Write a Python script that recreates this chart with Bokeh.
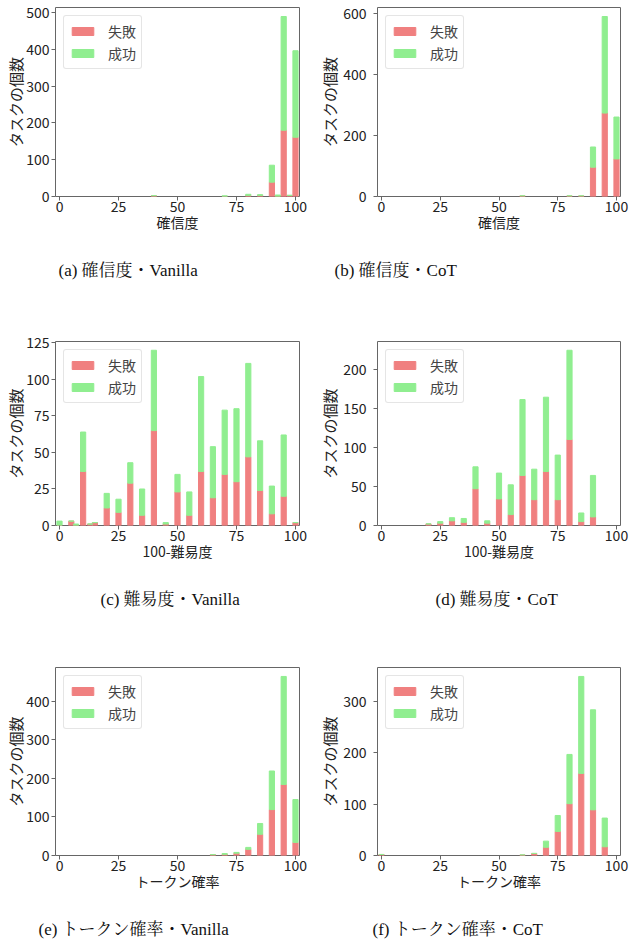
import numpy as np
from bokeh.plotting import figure
from bokeh.layouts import column, row
from bokeh.models import FixedTicker, Range1d, Title
from bokeh.embed import file_html
from bokeh.resources import INLINE

RED = "#F08080"
GREEN = "#90EE90"
SANS = "Noto Sans CJK JP"
SERIF = "'Liberation Serif', 'Noto Serif CJK JP', 'Noto Sans CJK JP', serif"

x_ticks = [0, 25, 50, 75, 100]
legend_labels = ["失敗", "成功"]
y_label = "タスクの個数"

# (a) 確信度・Vanilla
a_x = [40, 70, 80, 85, 90, 92.5, 95, 97.5, 100]
a_fail = [2, 0, 3, 3, 39, 0, 180, 3, 161]
a_succ = [0, 2, 3, 2, 46, 4, 309, 0, 235]
a_yticks = [0, 100, 200, 300, 400, 500]

# (b) 確信度・CoT
b_x = [60, 80, 85, 90, 95, 100]
b_fail = [2, 2, 2, 96, 273, 123]
b_succ = [0, 0, 0, 66, 316, 137]
b_yticks = [0, 200, 400, 600]

# (c) 難易度・Vanilla
c_x = [0, 5, 7, 10, 13, 15, 20, 25, 30, 35, 40, 45, 50, 55, 60, 65, 70, 75, 80, 85, 90, 95, 100]
c_fail = [0, 3, 0, 37, 1, 2, 12, 9, 29, 7, 65, 1, 23, 7, 37, 19, 35, 30, 47, 24, 8, 20, 2]
c_succ = [3, 0, 1, 27, 0, 0, 10, 9, 14, 18, 55, 1, 12, 16, 65, 35, 44, 50, 64, 34, 19, 42, 0]
c_yticks = [0, 25, 50, 75, 100, 125]

# (d) 難易度・CoT
d_x = [20, 25, 30, 35, 40, 45, 50, 55, 60, 65, 70, 75, 80, 85, 90]
d_fail = [2, 3, 6, 4, 47, 3, 34, 14, 64, 33, 69, 33, 110, 5, 11]
d_succ = [0, 2, 4, 5, 28, 3, 33, 38, 97, 39, 95, 57, 114, 11, 53]
d_yticks = [0, 50, 100, 150, 200]

# (e) トークン確率・Vanilla
e_x = [65, 70, 75, 80, 85, 90, 95, 100]
e_fail = [2, 3, 6, 16, 55, 119, 184, 34]
e_succ = [0, 2, 2, 5, 28, 100, 280, 111]
e_yticks = [0, 100, 200, 300, 400]

# (f) トークン確率・CoT
f_x = [0, 60, 65, 70, 75, 80, 85, 90, 95]
f_fail = [2, 1, 4, 16, 47, 101, 160, 89, 17]
f_succ = [0, 0, 0, 12, 31, 96, 189, 195, 56]
f_yticks = [0, 100, 200, 300]


def panel(xs, fail, succ, yticks, xlabel, caption, left, btop, frame_h, height,
          cap_left, gap):
    fail = np.array(fail, dtype=float)
    total = fail + np.array(succ, dtype=float)
    if left:
        width, bl, br, lstand, ylstand = 315, 55, 16, 2, -3
        x0 = 0
    else:
        width, bl, br, lstand, ylstand = 315, 62, 10, 7, 0
        x0 = 315
    bb = height - btop - frame_h
    p = figure(width=width, height=height, output_backend="svg",
               toolbar_location=None,
               x_range=Range1d(-1.7, 101.7),
               y_range=Range1d(0, total.max() * 1.05),
               min_border_left=bl, min_border_right=br,
               min_border_top=btop, min_border_bottom=bb)
    p.vbar(x=xs, top=fail, bottom=0, width=2.2, color=RED,
           legend_label=legend_labels[0])
    p.vbar(x=xs, top=total, bottom=fail, width=2.2, color=GREEN,
           legend_label=legend_labels[1])
    p.xgrid.visible = False
    p.ygrid.visible = False
    p.outline_line_color = "#666666"
    p.outline_line_width = 1
    p.xaxis.ticker = FixedTicker(ticks=x_ticks)
    p.yaxis.ticker = FixedTicker(ticks=yticks)
    for ax in (p.xaxis[0], p.yaxis[0]):
        ax.axis_line_color = None
        ax.major_tick_line_color = "#666666"
        ax.major_tick_out = 4
        ax.major_tick_in = 0
        ax.minor_tick_line_color = None
        ax.major_label_text_font = SANS
        ax.major_label_text_font_size = "14px"
        ax.major_label_text_color = "#222222"
        ax.axis_label_text_font = SANS
        ax.axis_label_text_font_style = "normal"
        ax.axis_label_text_color = "#222222"
    p.xaxis.axis_label_text_font_size = "14px"
    p.yaxis.axis_label_text_font_size = "15px"
    p.xaxis.major_label_standoff = 0
    p.yaxis.major_label_standoff = lstand
    p.xaxis.axis_label = xlabel
    p.yaxis.axis_label = y_label
    p.xaxis.axis_label_standoff = -3
    p.yaxis.axis_label_standoff = ylstand
    lg = p.legend[0]
    lg.location = "top_left"
    lg.margin = 8
    lg.padding = 5
    lg.spacing = 2
    lg.glyph_width = 27
    lg.glyph_height = 10
    lg.label_height = 18
    lg.label_standoff = 12
    lg.label_text_font = SANS
    lg.label_text_font_size = "14px"
    lg.border_line_color = "#cccccc"
    lg.border_radius = 3
    lg.background_fill_alpha = 0.85
    frame_left = x0 + bl
    spacer = Title(text=" ", text_font_size="1px", standoff=gap)
    p.add_layout(spacer, "below")
    t = Title(text=caption, align="left", offset=cap_left - frame_left,
              text_font=SERIF, text_font_size="17px", text_font_style="normal",
              text_color="#111111", standoff=2)
    p.add_layout(t, "below")
    return p


pa = panel(a_x, a_fail, a_succ, a_yticks, "確信度", "(a) 確信度・Vanilla", True, 7, 189, 330, 58, 20)
pb = panel(b_x, b_fail, b_succ, b_yticks, "確信度", "(b) 確信度・CoT", False, 7, 189, 330, 334, 20)
pc = panel(c_x, c_fail, c_succ, c_yticks, "100-難易度", "(c) 難易度・Vanilla", True, 11, 184, 326, 100, 20)
pd_ = panel(d_x, d_fail, d_succ, d_yticks, "100-難易度", "(d) 難易度・CoT", False, 8, 187, 326, 435, 20)
pe = panel(e_x, e_fail, e_succ, e_yticks, "トークン確率", "(e) トークン確率・Vanilla", True, 11, 188, 284, 38, 20)
pf = panel(f_x, f_fail, f_succ, f_yticks, "トークン確率", "(f) トークン確率・CoT", False, 11, 188, 284, 372, 20)

layout = column(row(pa, pb), row(pc, pd_), row(pe, pf))
open("out.html", "w").write(file_html(layout, INLINE))
